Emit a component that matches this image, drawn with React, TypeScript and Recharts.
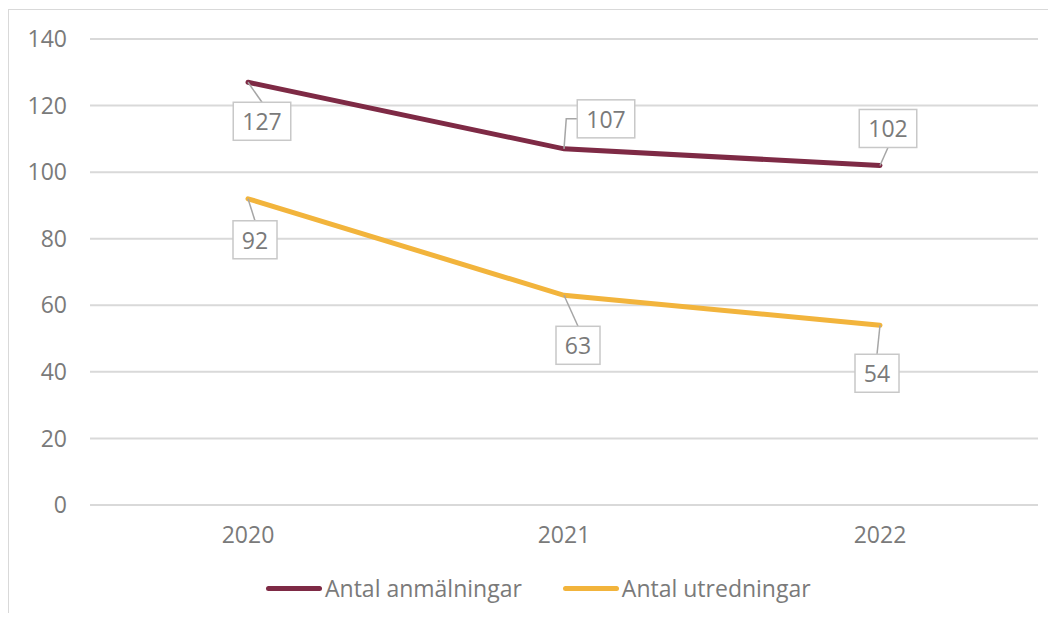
import React from "react";
import { LineChart, Line, XAxis, YAxis, CartesianGrid, Legend, LabelList } from "recharts";

const years = ["2020", "2021", "2022"];
const anmalningar = [127, 107, 102];
const utredningar = [92, 63, 54];
const yTicks = [0, 20, 40, 60, 80, 100, 120, 140];
const seriesNames = ["Antal anmälningar", "Antal utredningar"];

const data = years.map((y, i) => ({ year: y, anm: anmalningar[i], utr: utredningar[i] }));

const COLOR_ANM = "#7E2A45";
const COLOR_UTR = "#F2B43C";
const FONT = "'Open Sans', sans-serif";
const TEXT = "#7a7a7a";
const FS = 23;

// label box centre offsets relative to the data point (style only)
const anmOffsets = [[14, 39], [42, -30], [8, -37]];
const utrOffsets = [[7, 41], [14, 50], [-3, 48]];

const makeLabel = (offsets: number[][]) => (props: any) => {
  const { x, y, value, index } = props;
  if (x == null || y == null) return null;
  const [dx, dy] = offsets[index];
  const txt = String(value);
  const w = txt.length * 13.5 + 17;
  const h = 38;
  const cx = x + dx;
  const cy = y + dy;
  const left = cx - w / 2;
  const top = cy - h / 2;
  let path: string;
  if (dx - w / 2 > 5) {
    path = `M${x},${y} L${left - 11},${cy} L${left},${cy}`;
  } else if (dy > 0) {
    path = `M${x},${y} L${cx},${top}`;
  } else {
    path = `M${x},${y} L${cx},${top + h}`;
  }
  return (
    <g>
      <path d={path} stroke="#a6a6a6" strokeWidth={1.5} fill="none" />
      <rect x={left} y={top} width={w} height={h} fill="#fff" stroke="#c8c8c8" strokeWidth={1.5} />
      <text x={cx} y={cy} textAnchor="middle" dominantBaseline="central" fill={TEXT} fontSize={FS} fontFamily={FONT}>
        {txt}
      </text>
    </g>
  );
};

const renderLegend = () => (
  <div style={{ display: "flex", alignItems: "center", height: 36, paddingLeft: 266, fontFamily: FONT, fontSize: FS, color: TEXT }}>
    {[COLOR_ANM, COLOR_UTR].map((c, i) => (
      <div key={i} style={{ display: "flex", alignItems: "center", marginRight: 41 }}>
        <div style={{ width: 56, height: 5, borderRadius: 3, background: c, marginRight: 3 }} />
        <span>{seriesNames[i]}</span>
      </div>
    ))}
  </div>
);

export default function App() {
  return (
    <div style={{ position: "relative", width: 1040, height: 605 }}>
      <div style={{ position: "absolute", left: 0, top: 1, width: 1040, height: 604, borderLeft: "1.5px solid #d9d9d9", borderTop: "1.5px solid #d9d9d9" }} />
      <div style={{ position: "absolute", left: -8, top: -8 }}>
        <LineChart width={1056} height={621} data={data} margin={{ top: 39, right: 18, left: 0, bottom: 15 }}>
          <CartesianGrid vertical={false} stroke="#d9d9d9" strokeWidth={2} />
          <XAxis
            dataKey="year"
            axisLine={false}
            tickLine={false}
            tickSize={0}
            tickMargin={22}
            height={65}
            padding={{ left: 158, right: 158 }}
            tick={{ fill: TEXT, fontSize: FS, fontFamily: FONT }}
          />
          <YAxis
            domain={[0, 140]}
            ticks={yTicks}
            width={90}
            axisLine={false}
            tickLine={false}
            tickSize={0}
            tickMargin={23}
            tick={{ fill: TEXT, fontSize: FS, fontFamily: FONT }}
          />
          <Legend verticalAlign="bottom" content={renderLegend} />
          <Line dataKey="anm" stroke={COLOR_ANM} strokeWidth={5} strokeLinecap="round" dot={false} isAnimationActive={false}>
            <LabelList dataKey="anm" content={makeLabel(anmOffsets)} />
          </Line>
          <Line dataKey="utr" stroke={COLOR_UTR} strokeWidth={5} strokeLinecap="round" dot={false} isAnimationActive={false}>
            <LabelList dataKey="utr" content={makeLabel(utrOffsets)} />
          </Line>
        </LineChart>
      </div>
    </div>
  );
}
